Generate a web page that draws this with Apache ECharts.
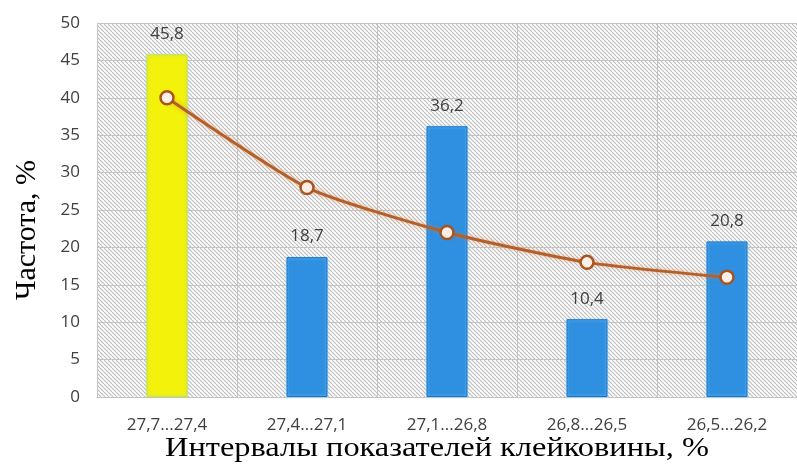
<!DOCTYPE html>
<html>
<head>
<meta charset="utf-8">
<script src="https://cdn.jsdelivr.net/npm/echarts@6/dist/echarts.min.js"></script>
<style>
	html, body { margin: 0; padding: 0; background: #fff; }
	#main { width: 797px; height: 466px; }
</style>
</head>
<body>
<div id="main"></div>
<script>
var categories = ['27,7...27,4', '27,4...27,1', '27,1...26,8', '26,8...26,5', '26,5...26,2'];
var barValues = [45.8, 18.7, 36.2, 10.4, 20.8];
var lineValues = [40, 28, 22, 18, 16];
var barColors = ['#f2f20a', '#2f8fe0', '#2f8fe0', '#2f8fe0', '#2f8fe0'];
var barBorders = ['#e2e200', '#1f72c4', '#1f72c4', '#1f72c4', '#1f72c4'];

// diagonal hatch for the plot background
function makeHatch() {
	var c = document.createElement('canvas');
	c.width = 8;
	c.height = 8;
	var g = c.getContext('2d');
	g.fillStyle = '#ffffff';
	g.fillRect(0, 0, 8, 8);
	g.strokeStyle = '#bcbcbc';
	g.lineWidth = 1.1;
	for (var k = -3; k <= 3; k++) {
		g.beginPath();
		g.moveTo(k * 4, 0);
		g.lineTo(k * 4 + 8, 8);
		g.stroke();
	}
	return c;
}

var barData = [];
for (var i = 0; i < barValues.length; i++) {
	barData.push({
		value: barValues[i],
		itemStyle: { color: barColors[i], borderColor: barBorders[i], borderWidth: 1 }
	});
}

var chart = echarts.init(document.getElementById('main'));
chart.setOption({
	animation: false,
	grid: {
		left: 97, right: -7, top: 23, bottom: 69,
		show: true,
		borderWidth: 0,
		backgroundColor: { image: makeHatch(), repeat: 'repeat' }
	},
	graphic: [{
		type: 'text',
		x: 437,
		y: 449,
		scaleX: 1.2,
		originX: 0,
		style: {
			text: 'Интервалы показателей клейковины, %',
			font: '27px "Liberation Serif"',
			fill: '#000',
			align: 'center',
			verticalAlign: 'middle'
		}
	}, {
		type: 'text',
		x: 27,
		y: 230,
		rotation: Math.PI / 2,
		style: {
			text: 'Частота, %',
			font: '30px "Liberation Serif"',
			fill: '#000',
			align: 'center',
			verticalAlign: 'middle'
		}
	}],
	xAxis: {
		type: 'category',
		data: categories,
		boundaryGap: true,
		axisLine: { show: true, lineStyle: { color: '#c4c4c4' } },
		axisTick: { show: false },
		axisLabel: { fontFamily: 'Open Sans', fontSize: 17, color: '#404040', margin: 20 },
		splitLine: { show: true, lineStyle: { color: '#c4c4c4', width: 1 } }
	},
	yAxis: {
		type: 'value',
		min: 0,
		max: 50,
		interval: 5,
		axisLine: { show: false },
		axisTick: { show: false },
		axisLabel: { fontFamily: 'Open Sans', fontSize: 17, color: '#404040', margin: 17 },
		splitLine: { show: true, lineStyle: { color: '#c4c4c4', width: 1 } }
	},
	series: [{
		type: 'bar',
		data: barData,
		barWidth: 41,
		label: {
			show: true,
			position: 'top',
			distance: 12,
			fontFamily: 'Open Sans',
			fontSize: 17,
			color: '#404040',
			formatter: function (p) { return String(p.value).replace('.', ','); }
		},
		itemStyle: { shadowBlur: 3, shadowColor: 'rgba(150,220,255,0.8)' },
		z: 2
	}, {
		type: 'line',
		data: lineValues,
		smooth: 0.2,
		symbol: 'circle',
		symbolSize: 13,
		lineStyle: { color: '#b5602a', width: 3, shadowBlur: 5, shadowColor: 'rgba(210,130,70,0.55)' },
		itemStyle: { color: '#fdeee6', borderColor: '#a8541e', borderWidth: 2.5 },
		z: 3
	}]
});
</script>
</body>
</html>
